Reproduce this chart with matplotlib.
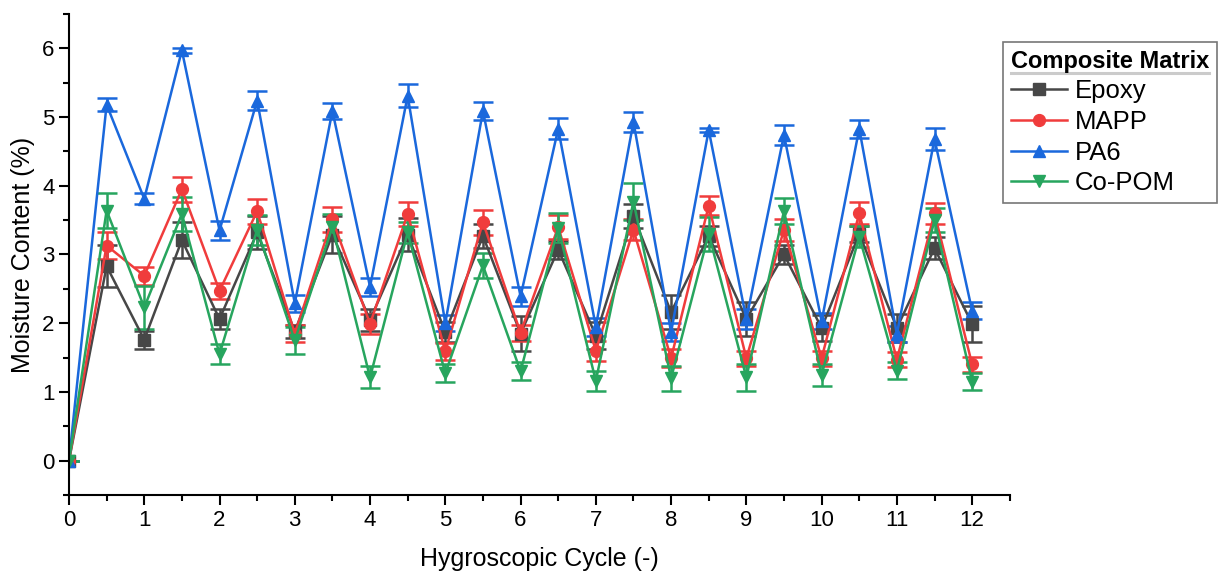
import numpy as np
import matplotlib.pyplot as plt
from matplotlib.lines import Line2D
from matplotlib.ticker import MultipleLocator

plt.rcParams['font.family'] = ['Liberation Sans', 'DejaVu Sans']

# hygroscopic cycle (half steps = wet / dry)
cycle = np.arange(0, 12.5, 0.5)

epoxy = [0, 2.83, 1.76, 3.21, 2.06, 3.32, 1.88, 3.29, 2.05, 3.29, 1.87, 3.27, 1.85,
         3.07, 1.82, 3.56, 2.16, 3.27, 2.06, 3.00, 1.93, 3.30, 1.93, 3.09, 1.99]
epoxy_err = [0, 0.31, 0.13, 0.26, 0.145, 0.24, 0.10, 0.27, 0.16, 0.24, 0.145, 0.17, 0.26,
             0.13, 0.20, 0.17, 0.25, 0.15, 0.25, 0.145, 0.19, 0.12, 0.20, 0.16, 0.26]

mapp = [0, 3.13, 2.69, 3.95, 2.47, 3.63, 1.85, 3.51, 1.99, 3.59, 1.59, 3.47, 1.86,
        3.40, 1.60, 3.36, 1.49, 3.71, 1.49, 3.36, 1.49, 3.60, 1.47, 3.60, 1.40]
mapp_err = [0, 0.19, 0.135, 0.18, 0.12, 0.18, 0.13, 0.18, 0.14, 0.17, 0.125, 0.18, 0.12,
            0.17, 0.145, 0.15, 0.13, 0.14, 0.11, 0.16, 0.11, 0.16, 0.11, 0.15, 0.11]

pa6 = [0, 5.18, 3.81, 5.97, 3.35, 5.24, 2.29, 5.09, 2.53, 5.31, 2.00, 5.09, 2.39,
       4.83, 1.95, 4.93, 1.87, 4.81, 2.06, 4.74, 2.03, 4.83, 1.84, 4.68, 2.18]
pa6_err = [0, 0.09, 0.08, 0.04, 0.14, 0.14, 0.12, 0.12, 0.13, 0.17, 0.12, 0.13, 0.14,
           0.15, 0.13, 0.15, 0.13, 0.03, 0.145, 0.145, 0.12, 0.13, 0.12, 0.16, 0.125]

copom = [0, 3.64, 2.23, 3.59, 1.55, 3.36, 1.75, 3.40, 1.21, 3.32, 1.27, 2.84, 1.30,
         3.39, 1.16, 3.77, 1.20, 3.30, 1.21, 3.63, 1.25, 3.26, 1.31, 3.50, 1.15]
copom_err = [0, 0.26, 0.31, 0.25, 0.145, 0.22, 0.20, 0.19, 0.16, 0.15, 0.13, 0.18, 0.13,
             0.22, 0.145, 0.27, 0.18, 0.25, 0.19, 0.19, 0.16, 0.15, 0.12, 0.18, 0.12]

series = [
    ('Epoxy', epoxy, epoxy_err, '#474747', 's'),
    ('MAPP', mapp, mapp_err, '#f03c3c', 'o'),
    ('PA6', pa6, pa6_err, '#1a68dc', '^'),
    ('Co-POM', copom, copom_err, '#27a55e', 'v'),
]

fig = plt.figure(figsize=(12.21, 5.72), dpi=100)
ax = fig.add_axes([0.0565, 0.1346, 0.7705, 0.841])

for name, vals, err, col, mk in series:
    ax.errorbar(cycle, vals, yerr=err, color=col, marker=mk, markersize=8.5,
                linewidth=1.8, elinewidth=1.8, capsize=7.5, capthick=1.8, label=name)

ax.set_xlim(0, 12.5)
ax.set_ylim(-0.5, 6.5)
ax.xaxis.set_major_locator(MultipleLocator(1))
ax.xaxis.set_minor_locator(MultipleLocator(0.5))
ax.yaxis.set_major_locator(MultipleLocator(1))
ax.yaxis.set_minor_locator(MultipleLocator(0.5))
ax.tick_params(which='major', direction='out', length=7, width=1.5, labelsize=16)
ax.tick_params(which='minor', direction='out', length=4, width=1.5)
for s in ['top', 'right']:
    ax.spines[s].set_visible(False)
for s in ['left', 'bottom']:
    ax.spines[s].set_linewidth(1.5)

ax.set_xlabel('Hygroscopic Cycle (-)', fontsize=18, labelpad=12)
ax.set_ylabel('Moisture Content (%)', fontsize=18, labelpad=5)

handles = [Line2D([], [], color=c, marker=m, markersize=8.5, linewidth=1.8)
           for _, _, _, c, m in series]
leg = fig.legend(handles, [s[0] for s in series], loc='upper left',
                 bbox_to_anchor=(0.8215, 0.9266), fontsize=18.5, title='Composite Matrix',
                 title_fontproperties={'weight': 'bold', 'size': 17},
                 frameon=True, fancybox=False, edgecolor='#555555',
                 handlelength=2.2, handletextpad=0.3, labelspacing=0.26,
                 borderpad=0.3, borderaxespad=0)
leg.get_frame().set_linewidth(1.2)
leg._legend_box.align = 'left'

# underline for legend title
fig.canvas.draw()
bb = leg.get_title().get_window_extent().transformed(fig.transFigure.inverted())
fig.add_artist(Line2D([bb.x0, bb.x1], [bb.y0 - 0.001, bb.y0 - 0.001],
                      transform=fig.transFigure, color='black', linewidth=2.2))

fig.savefig('out.png', dpi=100)
